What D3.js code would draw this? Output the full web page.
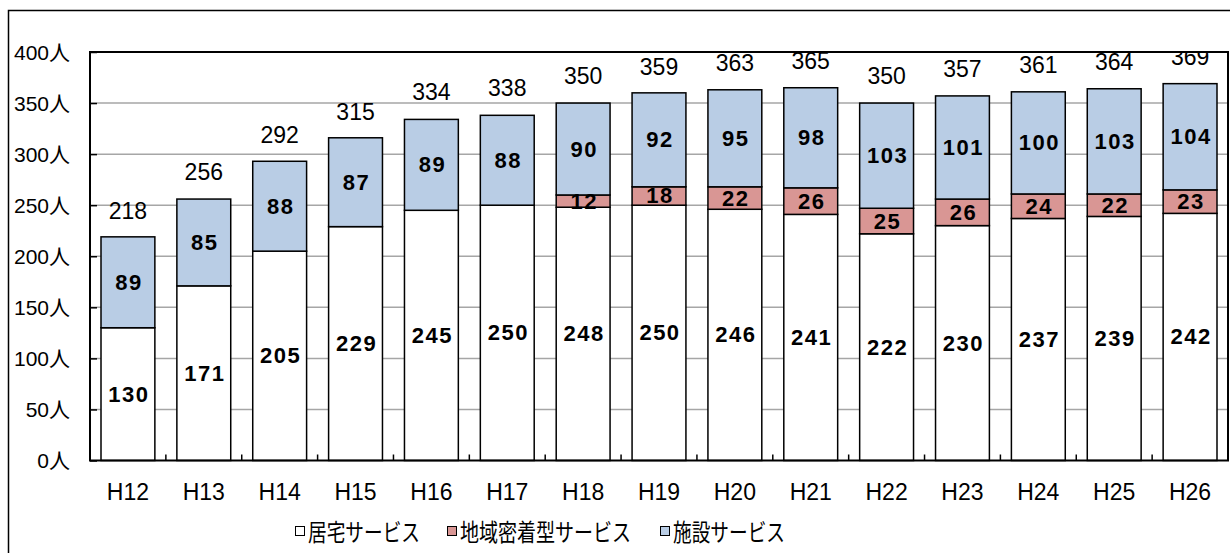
<!DOCTYPE html>
<html lang="ja">
<head>
<meta charset="utf-8">
<script src="https://cdn.jsdelivr.net/npm/d3@7/dist/d3.min.js"></script>
<style>
  html, body { margin: 0; padding: 0; background: #fff; }
  svg { display: block; }
</style>
</head>
<body>
<svg id="chart" width="1230" height="553"></svg>
<script>
// Fiscal years (Heisei)
const years = ["H12","H13","H14","H15","H16","H17","H18","H19","H20","H21","H22","H23","H24","H25","H26"];
// Users by service type (persons)
const homeCare      = [130,171,205,229,245,250,248,250,246,241,222,230,237,239,242];
const communityCare = [0,0,0,0,0,0,12,18,22,26,25,26,24,22,23];
const facilityCare  = [89,85,88,87,89,88,90,92,95,98,103,101,100,103,104];
// Published totals
const totals        = [218,256,292,315,334,338,350,359,363,365,350,357,361,364,369];
// Axis ticks
const yTicks = [0,50,100,150,200,250,300,350,400];

const seriesNames  = ["居宅サービス","地域密着型サービス","施設サービス"];
const seriesKeys   = ["home","community","facility"];
const seriesColors = ["#ffffff","#d99694","#b9cde5"];

const rows = years.map((y, i) => ({
  year: y, home: homeCare[i], community: communityCare[i], facility: facilityCare[i], total: totals[i]
}));

const svg = d3.select("#chart");
const plot = { left: 90, right: 1228, top: 52, bottom: 460.5 };
const numFont = "'Liberation Sans', 'Noto Sans CJK JP', sans-serif";
const jpFont  = "'Noto Sans CJK JP', 'Liberation Sans', sans-serif";

// Outer frame
svg.append("rect")
  .attr("x", 8.5).attr("y", 10.5).attr("width", 1240).attr("height", 560)
  .attr("fill", "none").attr("stroke", "#000").attr("stroke-width", 1.5);

const x = d3.scaleBand().domain(years).range([plot.left, plot.right])
  .paddingInner(0.29).paddingOuter(0.145);
const y = d3.scaleLinear().domain([0, 400]).range([plot.bottom, plot.top]);

// Gridlines
svg.append("g").selectAll("line").data(yTicks.filter(t => t > 0 && t < 400)).join("line")
  .attr("x1", plot.left).attr("x2", plot.right)
  .attr("y1", d => y(d)).attr("y2", d => y(d))
  .attr("stroke", "#a6a6a6").attr("stroke-width", 1.5);

// Stacked bars
const stack = d3.stack().keys(seriesKeys)(rows);
stack.forEach((layer, li) => {
  svg.append("g").selectAll("rect")
    .data(layer.filter(d => d[1] - d[0] > 0)).join("rect")
    .attr("x", d => x(d.data.year))
    .attr("width", x.bandwidth())
    .attr("y", d => y(d[1]))
    .attr("height", d => y(d[0]) - y(d[1]))
    .attr("fill", seriesColors[li])
    .attr("stroke", "#000").attr("stroke-width", 1.5);
});

// Y axis with inward ticks
const yAxis = d3.axisLeft(y).tickValues(yTicks).tickSize(-7).tickPadding(20)
  .tickFormat(d => d + "人");
const gy = svg.append("g").attr("transform", `translate(${plot.left},0)`).call(yAxis);
gy.select(".domain").remove();
gy.selectAll(".tick line").attr("stroke", "#000").attr("stroke-width", 1.5);
gy.selectAll(".tick text")
  .attr("font-family", numFont).attr("font-size", 21).attr("fill", "#000")
  .attr("dy", "0.35em");

// X axis: category labels and boundary ticks pointing inward
svg.append("g").selectAll("text").data(years).join("text")
  .attr("x", d => x(d) + x.bandwidth() / 2)
  .attr("y", 492)
  .attr("text-anchor", "middle")
  .attr("dominant-baseline", "central")
  .attr("font-family", numFont).attr("font-size", 23)
  .text(d => d);
svg.append("g").selectAll("line").data(years.slice(1)).join("line")
  .attr("x1", d => x(d) - x.step() * x.paddingInner() / 2)
  .attr("x2", d => x(d) - x.step() * x.paddingInner() / 2)
  .attr("y1", plot.bottom).attr("y2", plot.bottom - 6)
  .attr("stroke", "#000").attr("stroke-width", 1.5);

// Plot frame: axis lines, top and right border
svg.append("path")
  .attr("d", `M${plot.left},${plot.top}H${plot.right}V${plot.bottom}H${plot.left}Z`)
  .attr("fill", "none").attr("stroke", "#000").attr("stroke-width", 2);

// Segment value labels
stack.forEach(layer => {
  svg.append("g").selectAll("text")
    .data(layer.filter(d => d[1] - d[0] > 0)).join("text")
    .attr("x", d => x(d.data.year) + x.bandwidth() / 2 + 1)
    .attr("y", d => y((d[0] + d[1]) / 2))
    .attr("text-anchor", "middle")
    .attr("dominant-baseline", "central")
    .attr("font-family", numFont).attr("font-weight", "bold").attr("font-size", 22)
    .attr("letter-spacing", 1.5)
    .text(d => d[1] - d[0]);
});

// Total labels, clipped to the plot area
svg.append("clipPath").attr("id", "plotClip").append("rect")
  .attr("x", plot.left).attr("y", plot.top)
  .attr("width", plot.right - plot.left).attr("height", plot.bottom - plot.top);
svg.append("g").attr("clip-path", "url(#plotClip)")
  .selectAll("text").data(rows).join("text")
  .attr("x", d => x(d.year) + x.bandwidth() / 2)
  .attr("y", d => y(d.total) - 27)
  .attr("text-anchor", "middle")
  .attr("dominant-baseline", "central")
  .attr("font-family", numFont).attr("font-size", 23)
  .text(d => d.total);

// Legend
const legendX = [295, 447, 660];
const legendW = [112, 171, 112];
const legend = svg.append("g");
seriesNames.forEach((name, i) => {
  legend.append("rect")
    .attr("x", legendX[i] + 0.5).attr("y", 526.5).attr("width", 9).attr("height", 9)
    .attr("fill", seriesColors[i]).attr("stroke", "#000").attr("stroke-width", 1);
  legend.append("text")
    .attr("x", legendX[i] + 13).attr("y", 530)
    .attr("dominant-baseline", "central")
    .attr("font-family", jpFont).attr("font-size", 24)
    .attr("textLength", legendW[i]).attr("lengthAdjust", "spacingAndGlyphs")
    .text(name);
});
</script>
</body>
</html>
